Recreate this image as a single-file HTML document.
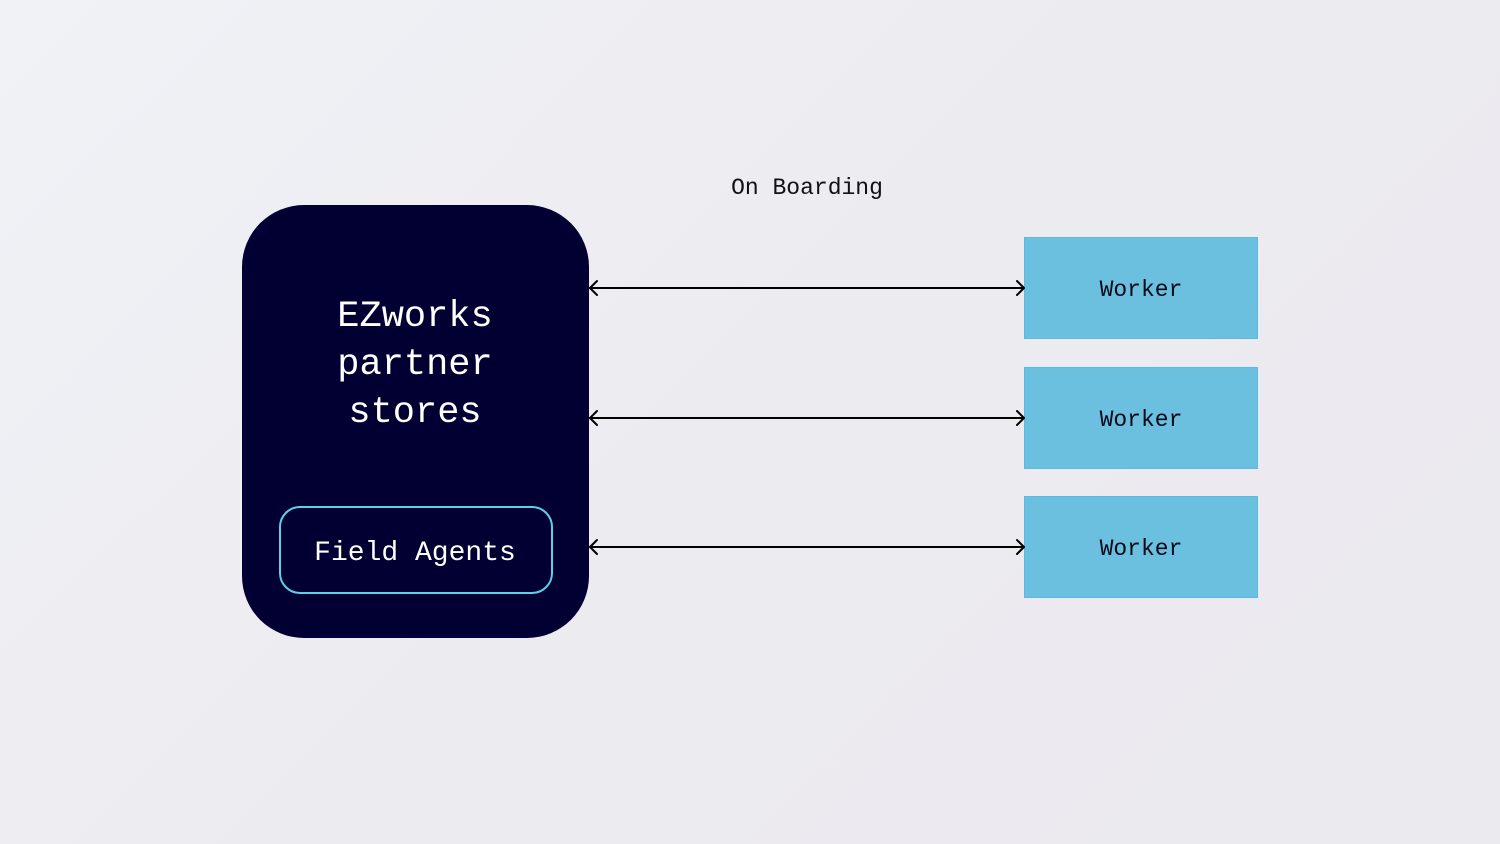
<!DOCTYPE html>
<html>
<head>
<meta charset="utf-8">
<style>
  html,body{margin:0;padding:0;}
  body{width:1500px;height:844px;overflow:hidden;background:linear-gradient(135deg,#f0f2f6 0%,#ecebf0 50%,#ebeaef 100%);}
  svg{display:block;}
  text{font-family:"Liberation Mono","DejaVu Sans Mono",monospace;}
</style>
</head>
<body>
<svg width="1500" height="844" viewBox="0 0 1500 844" xmlns="http://www.w3.org/2000/svg">
  <!-- Main box -->
  <rect x="242" y="205" width="347" height="433" rx="62" ry="62" fill="#020033"/>
  <text x="415" y="326" font-size="37" fill="#ffffff" text-anchor="middle">EZworks</text>
  <text x="415" y="374" font-size="37" fill="#ffffff" text-anchor="middle">partner</text>
  <text x="415" y="422" font-size="37" fill="#ffffff" text-anchor="middle">stores</text>

  <!-- Field agents -->
  <rect x="280" y="507" width="272" height="86" rx="20" ry="20" fill="none" stroke="#5ad2e8" stroke-width="2"/>
  <text x="415" y="560" font-size="28" fill="#ffffff" text-anchor="middle">Field Agents</text>

  <!-- On Boarding label -->
  <text x="807" y="194" font-size="23" fill="#111111" text-anchor="middle">On Boarding</text>

  <!-- Worker boxes -->
  <g fill="#6bc0e0" stroke="#5cb9e2" stroke-width="1">
    <rect x="1024.5" y="237.5" width="233" height="101"/>
    <rect x="1024.5" y="367.5" width="233" height="101"/>
    <rect x="1024.5" y="496.5" width="233" height="101"/>
  </g>
  <g font-size="23" fill="#0a0a1a" text-anchor="middle">
    <text x="1141" y="296">Worker</text>
    <text x="1141" y="426">Worker</text>
    <text x="1141" y="555">Worker</text>
  </g>

  <!-- Arrows -->
  <g stroke="#000000" stroke-width="2" fill="none" stroke-linecap="round" stroke-linejoin="round">
    <line x1="590" y1="288" x2="1024" y2="288"/>
    <polyline points="597,281 590,288 597,295"/>
    <polyline points="1017,281 1024,288 1017,295"/>

    <line x1="590" y1="418" x2="1024" y2="418"/>
    <polyline points="597,411 590,418 597,425"/>
    <polyline points="1017,411 1024,418 1017,425"/>

    <line x1="590" y1="547" x2="1024" y2="547"/>
    <polyline points="597,540 590,547 597,554"/>
    <polyline points="1017,540 1024,547 1017,554"/>
  </g>
</svg>
</body>
</html>
